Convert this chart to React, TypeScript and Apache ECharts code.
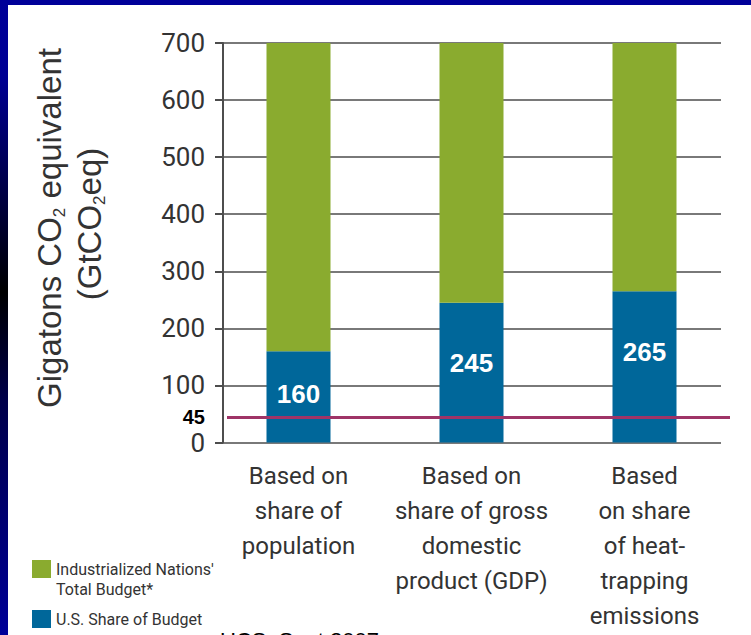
import React, { useEffect, useRef } from "react";
import * as echarts from "echarts";

// Carbon budget scenarios: U.S. share of the industrialized nations' total budget
const categories = [
  "Based on\nshare of\npopulation",
  "Based on\nshare of gross\ndomestic\nproduct (GDP)",
  "Based\non share\nof heat-\ntrapping\nemissions",
];
const usShare = [160, 245, 265];
const totalBudget = [700, 700, 700];
const referenceLevel = 45;
const yMin = 0;
const yMax = 700;
const yStep = 100;

const seriesNames = {
  total: "Industrialized Nations' Total Budget*",
  us: "U.S. Share of Budget",
};

const NARROW = "Roboto, 'Liberation Sans', sans-serif";
const SANS = "'Liberation Sans', Arial, Helvetica, sans-serif";
const GREEN = "#8aab2f";
const BLUE = "#00679a";
const MAGENTA = "#9f3467";
const GRID_LINE = "#4d4d4d";
const INK = "#333333";

// vertical nudge of each value label inside its bar
const labelLift = [3, 10, 15];

const TOP = 43;
const BOTTOM = 192.5;

function buildOption(): echarts.EChartsOption {
  return {
    animation: false,
    backgroundColor: "transparent",
    grid: [
      { left: 223, right: 30, top: TOP, bottom: BOTTOM, outerBoundsMode: "none" },
      { left: 212, right: 20, top: TOP, bottom: BOTTOM, outerBoundsMode: "none" },
      { left: 227, right: 21, top: TOP, bottom: BOTTOM, outerBoundsMode: "none" },
    ] as any,
    xAxis: [
      { type: "category", gridIndex: 0, data: categories, show: false },
      {
        type: "category",
        gridIndex: 1,
        data: categories,
        axisLine: { show: false },
        axisTick: { show: false },
        axisLabel: {
          interval: 0,
          margin: 16,
          fontFamily: NARROW,
          fontSize: 24,
          lineHeight: 35,
          color: INK,
        },
      },
      { type: "category", gridIndex: 2, data: [""], show: false },
    ],
    yAxis: [
      {
        type: "value",
        gridIndex: 0,
        min: yMin,
        max: yMax,
        interval: yStep,
        axisLine: { show: true, lineStyle: { color: GRID_LINE, width: 2 } },
        axisTick: { show: true, length: 8, lineStyle: { color: GRID_LINE, width: 2 } },
        splitLine: { show: true, lineStyle: { color: GRID_LINE, width: 1.6 } },
        axisLabel: {
          margin: 18,
          fontFamily: NARROW,
          fontSize: 26,
          color: INK,
        },
      },
      { type: "value", gridIndex: 1, min: yMin, max: yMax, interval: yStep, show: false },
      { type: "value", gridIndex: 2, min: yMin, max: yMax, interval: yStep, show: false },
    ],
    legend: {
      orient: "vertical",
      left: 32,
      top: 539,
      padding: 0,
      itemWidth: 19,
      itemHeight: 18,
      itemGap: 10,
      icon: "rect",
      data: [seriesNames.total, seriesNames.us],
      formatter: (name: string) =>
        name === seriesNames.total
          ? "\nIndustrialized Nations'\nTotal Budget*"
          : name,
      textStyle: {
        fontFamily: NARROW,
        fontSize: 16,
        lineHeight: 20,
        color: INK,
      },
      itemStyle: { borderWidth: 0 },
    },
    graphic: [
      {
        type: "text",
        x: 49,
        y: 228,
        rotation: Math.PI / 2,
        style: {
          text: "{m|Gigatons CO}{s|2}{m| equivalent}",
          align: "center",
          verticalAlign: "middle",
          rich: {
            m: { fontFamily: SANS, fontSize: 33, lineHeight: 36, fill: "#333333" },
            s: {
              fontFamily: SANS,
              fontSize: 17,
              lineHeight: 16,
              padding: [20, 0, 0, 0],
              verticalAlign: "top",
              fill: "#333333",
            },
          },
        },
      },
      {
        type: "text",
        x: 89,
        y: 224,
        rotation: Math.PI / 2,
        style: {
          text: "{m|(GtCO}{s|2}{m|eq)}",
          align: "center",
          verticalAlign: "middle",
          rich: {
            m: { fontFamily: SANS, fontSize: 33, lineHeight: 36, fill: "#333333" },
            s: {
              fontFamily: SANS,
              fontSize: 17,
              lineHeight: 16,
              padding: [20, 0, 0, 0],
              verticalAlign: "top",
              fill: "#333333",
            },
          },
        },
      },
      {
        type: "text",
        left: 220,
        top: 629,
        style: {
          text: "UCS, Sept 2007",
          fontFamily: SANS,
          fontSize: 22,
          fill: "#000000",
        },
      },
    ],
    series: [
      {
        name: seriesNames.us,
        type: "bar",
        xAxisIndex: 1,
        yAxisIndex: 1,
        stack: "budget",
        barWidth: 64,
        itemStyle: { color: BLUE },
        label: {
          show: true,
          position: "inside",
          formatter: "{c}",
          color: "#ffffff",
          fontFamily: SANS,
          fontWeight: "bold",
          fontSize: 26,
        },
        data: usShare.map((v, i) => ({
          value: v,
          label: { offset: [0, -labelLift[i]] },
        })),
      },
      {
        name: seriesNames.total,
        type: "bar",
        xAxisIndex: 1,
        yAxisIndex: 1,
        stack: "budget",
        barWidth: 64,
        itemStyle: { color: GREEN },
        data: totalBudget.map((t, i) => t - usShare[i]),
      },
      {
        name: "reference",
        type: "line",
        xAxisIndex: 2,
        yAxisIndex: 2,
        data: [],
        z: 5,
        markLine: {
          silent: true,
          symbol: ["none", "none"],
          lineStyle: { color: MAGENTA, width: 3, type: "solid" },
          label: {
            show: true,
            position: "start",
            distance: 22,
            formatter: "{c}",
            color: "#000000",
            fontFamily: SANS,
            fontWeight: "bold",
            fontSize: 20,
          },
          data: [{ yAxis: referenceLevel }],
        },
      },
    ],
  };
}

export default function App() {
  const ref = useRef<HTMLDivElement>(null);

  useEffect(() => {
    if (!ref.current) return;
    const chart = echarts.init(ref.current, undefined, { renderer: "svg" });
    chart.setOption(buildOption());
    return () => chart.dispose();
  }, []);

  return (
    <div
      style={{
        position: "fixed",
        left: 0,
        top: 0,
        width: 751,
        height: 635,
        overflow: "hidden",
        background:
          "linear-gradient(to bottom, #000099 0%, #000094 12%, #000000 46%, #00004a 63%, #00008c 95%, #000099 100%)",
      }}
    >
      <div
        style={{
          position: "absolute",
          left: 8,
          top: 5,
          right: 0,
          bottom: 0,
          background: "#ffffff",
        }}
      />
      <div
        style={{
          position: "absolute",
          left: 0,
          top: 0,
          right: 0,
          height: 5,
          background: "#000099",
        }}
      />
      <div ref={ref} style={{ position: "absolute", left: 0, top: 0, width: 751, height: 635 }} />
    </div>
  );
}
